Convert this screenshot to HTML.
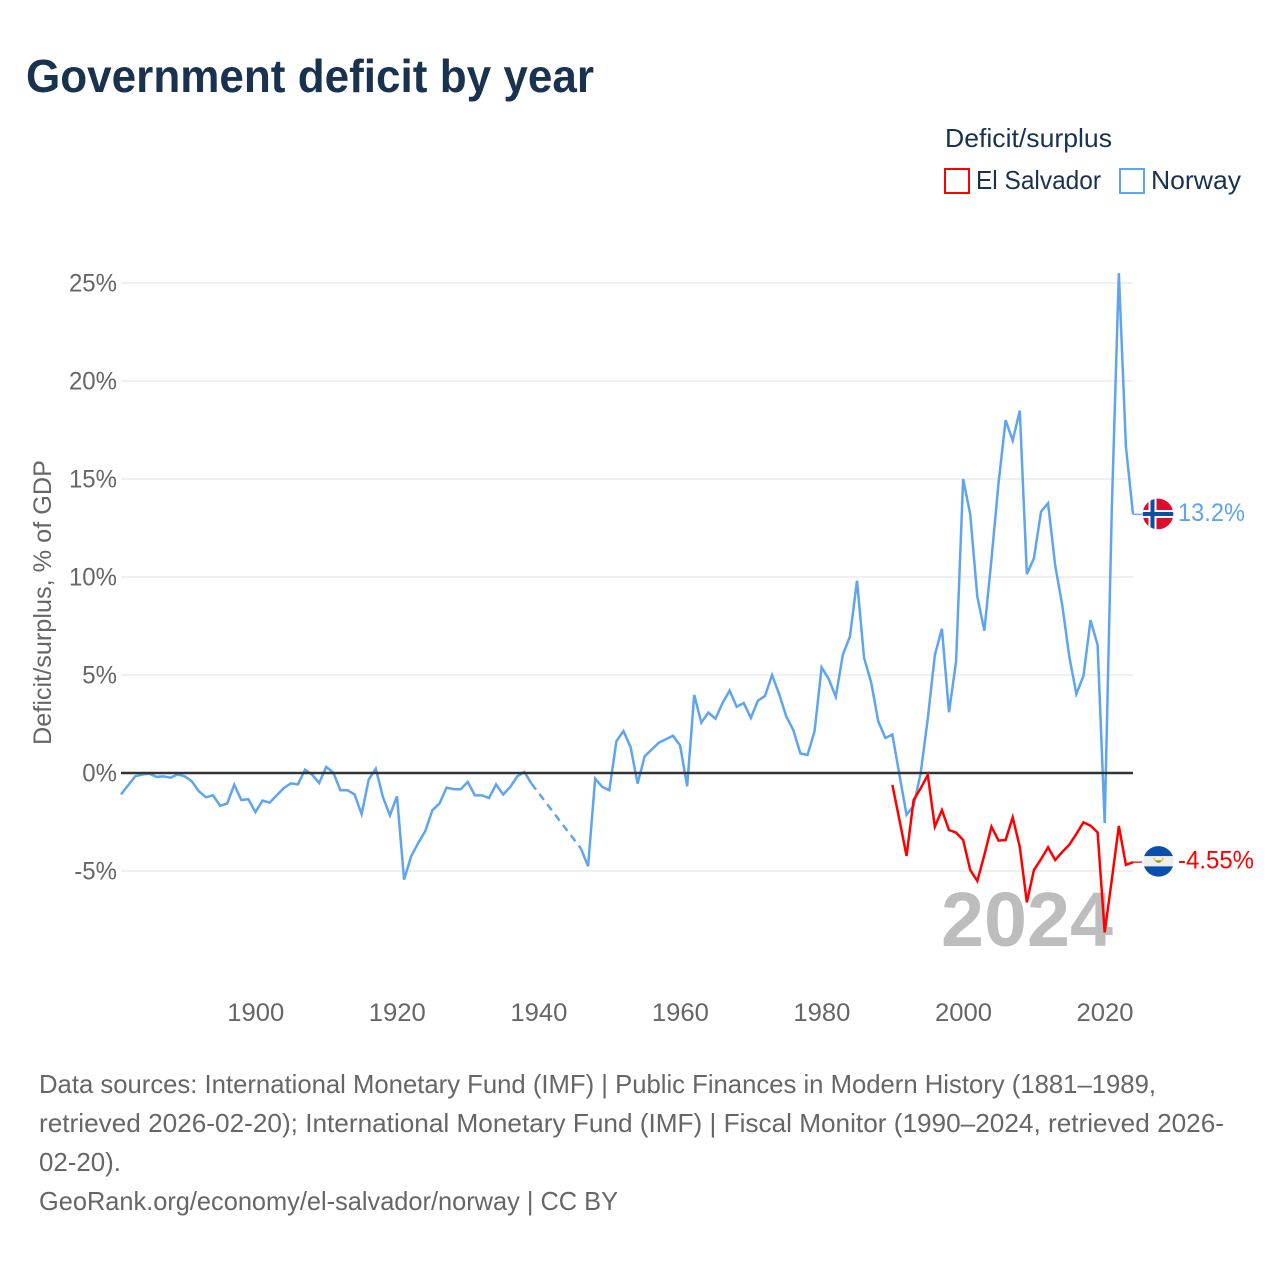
<!DOCTYPE html>
<html lang="en">
<head>
<meta charset="utf-8">
<title>Government deficit by year</title>
<style>
  html, body { margin: 0; padding: 0; background: #fff; }
  svg { display: block; font-family: "Liberation Sans", sans-serif; }
</style>
</head>
<body>
<svg id="chart" xmlns="http://www.w3.org/2000/svg" width="1280" height="1280" viewBox="0 0 1280 1280">
  <rect x="0" y="0" width="1280" height="1280" fill="#ffffff"/>
  <text x="26" y="92" font-size="46" font-weight="700" fill="#19324f" textLength="568" lengthAdjust="spacingAndGlyphs">Government deficit by year</text>

  <g>
    <text x="945" y="147" font-size="26" fill="#19324f" textLength="167" lengthAdjust="spacingAndGlyphs">Deficit/surplus</text>
    <g>
      <rect x="945" y="169" width="24" height="24" fill="#ffffff" stroke="#ff0000" stroke-width="2"/>
      <text x="976" y="189" font-size="26" fill="#19324f" textLength="125" lengthAdjust="spacingAndGlyphs">El Salvador</text>
    </g>
    <g>
      <rect x="1120" y="169" width="24" height="24" fill="#ffffff" stroke="#5ea5ee" stroke-width="2"/>
      <text x="1151" y="189" font-size="26" fill="#19324f" textLength="90" lengthAdjust="spacingAndGlyphs">Norway</text>
    </g>
  </g>

  <text transform="translate(51,745) rotate(-90)" x="0" y="0" font-size="25" fill="#666666" textLength="285" lengthAdjust="spacingAndGlyphs">Deficit/surplus, % of GDP</text>

  <g id="grid"></g>
  <g id="yticks"></g>
  <g id="xticks"></g>

  <text x="941" y="946" font-size="77" font-weight="700" fill="#bdbdbd" textLength="172" lengthAdjust="spacingAndGlyphs">2024</text>

  <g id="series"></g>
  <line id="zero" stroke="#333333" stroke-width="2.5"/>
  <g id="series-top"></g>

  <g id="flag-norway">
    <clipPath id="clip-no"><circle cx="0" cy="0" r="15.3"/></clipPath>
    <g clip-path="url(#clip-no)">
      <rect x="-16" y="-16" width="32" height="32" fill="#dc0e2f"/>
      <rect x="-9.5" y="-16" width="8" height="32" fill="#ffffff"/>
      <rect x="-16" y="-4" width="32" height="8" fill="#ffffff"/>
      <rect x="-7.5" y="-16" width="4" height="32" fill="#0b4ea2"/>
      <rect x="-16" y="-2" width="32" height="4" fill="#0b4ea2"/>
    </g>
  </g>
  <g id="flag-salvador">
    <clipPath id="clip-sv"><circle cx="0" cy="0" r="15.3"/></clipPath>
    <g clip-path="url(#clip-sv)">
      <rect x="-16" y="-16" width="32" height="11" fill="#0b4fae"/>
      <rect x="-16" y="-5.3" width="32" height="10.6" fill="#eeeeee"/>
      <rect x="-16" y="5" width="32" height="11" fill="#0b4fae"/>
      <path d="M-5.2 -3.6 A5.2 5.2 0 0 0 5.2 -3.6 L3.4 -3.6 L3.4 -1 L-3.4 -1 L-3.4 -3.6 Z" fill="#e8c64b"/>
      <path d="M-3.6 -1 L3.6 -1 L0 1.8 Z" fill="#7c9a3c"/>
    </g>
  </g>
  <text id="end-norway" x="1178" font-size="25" fill="#5ea5ee" textLength="67" lengthAdjust="spacingAndGlyphs">13.2%</text>
  <text id="end-salvador" x="1178" font-size="25" fill="#ff0000" textLength="76" lengthAdjust="spacingAndGlyphs">-4.55%</text>

  <g font-size="26" fill="#666666">
    <text x="39" y="1093" textLength="1117" lengthAdjust="spacingAndGlyphs">Data sources: International Monetary Fund (IMF) | Public Finances in Modern History (1881–1989,</text>
    <text x="39" y="1132" textLength="1185" lengthAdjust="spacingAndGlyphs">retrieved 2026-02-20); International Monetary Fund (IMF) | Fiscal Monitor (1990–2024, retrieved 2026-</text>
    <text x="39" y="1171" textLength="82" lengthAdjust="spacingAndGlyphs">02-20).</text>
    <text x="39" y="1210" textLength="579" lengthAdjust="spacingAndGlyphs">GeoRank.org/economy/el-salvador/norway | CC BY</text>
  </g>
</svg>
<script>
const years = [1881,1882,1883,1884,1885,1886,1887,1888,1889,1890,
  1891,1892,1893,1894,1895,1896,1897,1898,1899,1900,
  1901,1902,1903,1904,1905,1906,1907,1908,1909,1910,
  1911,1912,1913,1914,1915,1916,1917,1918,1919,1920,
  1921,1922,1923,1924,1925,1926,1927,1928,1929,1930,
  1931,1932,1933,1934,1935,1936,1937,1938,1939,1940,
  1941,1942,1943,1944,1945,1946,1947,1948,1949,1950,
  1951,1952,1953,1954,1955,1956,1957,1958,1959,1960,
  1961,1962,1963,1964,1965,1966,1967,1968,1969,1970,
  1971,1972,1973,1974,1975,1976,1977,1978,1979,1980,
  1981,1982,1983,1984,1985,1986,1987,1988,1989,1990,
  1991,1992,1993,1994,1995,1996,1997,1998,1999,2000,
  2001,2002,2003,2004,2005,2006,2007,2008,2009,2010,
  2011,2012,2013,2014,2015,2016,2017,2018,2019,2020,
  2021,2022,2023,2024];
const norwayValues = [-1.09,-0.63,-0.17,-0.08,-0.03,-0.2,-0.17,-0.24,-0.07,-0.17,
  -0.42,-0.93,-1.24,-1.14,-1.67,-1.56,-0.6,-1.38,-1.34,-1.99,
  -1.41,-1.51,-1.14,-0.77,-0.53,-0.58,0.17,-0.08,-0.51,0.31,
  0.02,-0.88,-0.88,-1.09,-2.1,-0.34,0.22,-1.22,-2.16,-1.19,
  -5.44,-4.25,-3.57,-2.96,-1.9,-1.56,-0.75,-0.82,-0.83,-0.46,
  -1.14,-1.14,-1.28,-0.58,-1.1,-0.71,-0.17,0.05,-0.54,null,
  null,null,null,null,null,-3.86,-4.76,-0.29,-0.71,-0.88,
  1.62,2.14,1.33,-0.54,0.85,1.2,1.55,1.72,1.9,1.41,
  -0.68,3.98,2.57,3.08,2.77,3.57,4.2,3.38,3.57,2.81,
  3.69,3.93,5.0,4.03,2.89,2.19,1.0,0.92,2.13,5.39,
  4.8,3.89,6.04,6.96,9.81,5.87,4.63,2.64,1.79,1.96,
  -0.1,-2.13,-1.67,0.0,2.76,6.02,7.36,3.1,5.68,15.0,
  13.2,9.0,7.26,10.9,14.8,18.0,16.96,18.49,10.15,10.95,
  13.33,13.76,10.6,8.57,5.93,4.03,4.95,7.8,6.53,-2.55,
  13.4,25.5,16.65,13.2];
const salvadorYears = [1990,1991,1992,1993,1994,1995,1996,1997,1998,1999,
  2000,2001,2002,2003,2004,2005,2006,2007,2008,2009,
  2010,2011,2012,2013,2014,2015,2016,2017,2018,2019,
  2020,2021,2022,2023,2024];
const salvadorValues = [-0.61,-2.4,-4.23,-1.38,-0.78,-0.1,-2.74,-1.89,-2.91,-3.04,
  -3.42,-4.95,-5.51,-4.18,-2.74,-3.45,-3.42,-2.26,-3.76,-6.6,
  -4.95,-4.4,-3.79,-4.44,-4.03,-3.66,-3.11,-2.52,-2.69,-3.03,
  -8.13,-5.46,-2.7,-4.69,-4.55];
const yTickValues = [-5,0,5,10,15,20,25];
const yTickLabels = ["-5%","0%","5%","10%","15%","20%","25%"];
const xTickValues = [1900,1920,1940,1960,1980,2000,2020];
const xTickLabels = ["1900","1920","1940","1960","1980","2000","2020"];

const NS = "http://www.w3.org/2000/svg";
const plotLeft = 121, plotRight = 1133;
function xScale(year) { return plotLeft + (year - 1881) * (plotRight - plotLeft) / (2024 - 1881); }
function yScale(value) { return 773 - value * 19.6; }
function make(tag, attrs, parent) {
  const el = document.createElementNS(NS, tag);
  for (const k in attrs) el.setAttribute(k, attrs[k]);
  parent.appendChild(el);
  return el;
}
const grid = document.getElementById("grid");
const yticks = document.getElementById("yticks");
const xticks = document.getElementById("xticks");
yTickValues.forEach(function (v, i) {
  if (v !== 0) {
    const g = make("line", {x1: plotLeft, x2: plotRight, y1: yScale(v), y2: yScale(v), stroke: "#ebebeb", "stroke-width": 1.5}, grid);
    
    
  }
  const t = make("text", {x: 117, y: yScale(v) + 8.5, "text-anchor": "end", "font-size": 25, fill: "#666666"}, yticks);
  
  
  t.textContent = yTickLabels[i];
  t.setAttribute("textLength", (t.getComputedTextLength() * 0.96).toFixed(2));
  t.setAttribute("lengthAdjust", "spacingAndGlyphs");
});
xTickValues.forEach(function (v, i) {
  const t = make("text", {x: xScale(v) + 0.3, y: 1021, "text-anchor": "middle", "font-size": 25, fill: "#666666", textLength: 57, lengthAdjust: "spacingAndGlyphs"}, xticks);
  
  
  t.textContent = xTickLabels[i];
});
const zero = document.getElementById("zero");
zero.setAttribute("x1", plotLeft);
zero.setAttribute("x2", plotRight);
zero.setAttribute("y1", yScale(0));
zero.setAttribute("y2", yScale(0));

function segments(xs, ys) {
  const solid = [], gaps = [];
  let cur = [], last = null;
  ys.forEach(function (v, i) {
    if (v === null) {
      if (cur.length) solid.push(cur);
      cur = [];
      return;
    }
    const p = [xScale(xs[i]), yScale(v)];
    if (!cur.length && last) gaps.push([last, p]);
    cur.push(p);
    last = p;
  });
  if (cur.length) solid.push(cur);
  return {solid: solid, gaps: gaps};
}
function pathOf(pts) {
  return pts.map(function (p, i) { return (i ? "L" : "M") + p[0].toFixed(2) + " " + p[1].toFixed(2); }).join(" ");
}
function drawSeries(parent, xs, ys, color) {
  const s = segments(xs, ys);
  s.solid.forEach(function (pts) {
    const l = make("path", {d: pathOf(pts), fill: "none", stroke: color, "stroke-width": 2.5, "stroke-linejoin": "miter"}, parent);
    
    
  });
  s.gaps.forEach(function (pts) {
    const d = make("path", {d: pathOf(pts), fill: "none", stroke: color, "stroke-width": 2.5, "stroke-dasharray": "7.5 5.5"}, parent);
    
    
  });
  const last = [xScale(xs[xs.length - 1]), yScale(ys[ys.length - 1])];
  const c = make("line", {x1: last[0], y1: last[1], x2: last[0] + 9, y2: last[1], stroke: color, "stroke-width": 1.5, "stroke-opacity": 0.85}, parent);
  
  
  return last;
}
const under = document.getElementById("series");
const over = document.getElementById("series-top");
const lastNo = drawSeries(under, years, norwayValues, "#5ea5ee");
const lastSv = drawSeries(over, salvadorYears, salvadorValues, "#ff0000");
document.getElementById("flag-norway").setAttribute("transform", "translate(1158," + (lastNo[1] - 0.3) + ")");
document.getElementById("flag-salvador").setAttribute("transform", "translate(1158.5," + (lastSv[1] - 0.8) + ")");
document.getElementById("end-norway").setAttribute("y", lastNo[1] + 6.5);
document.getElementById("end-salvador").setAttribute("y", lastSv[1] + 6.5);
</script>
</body>
</html>
